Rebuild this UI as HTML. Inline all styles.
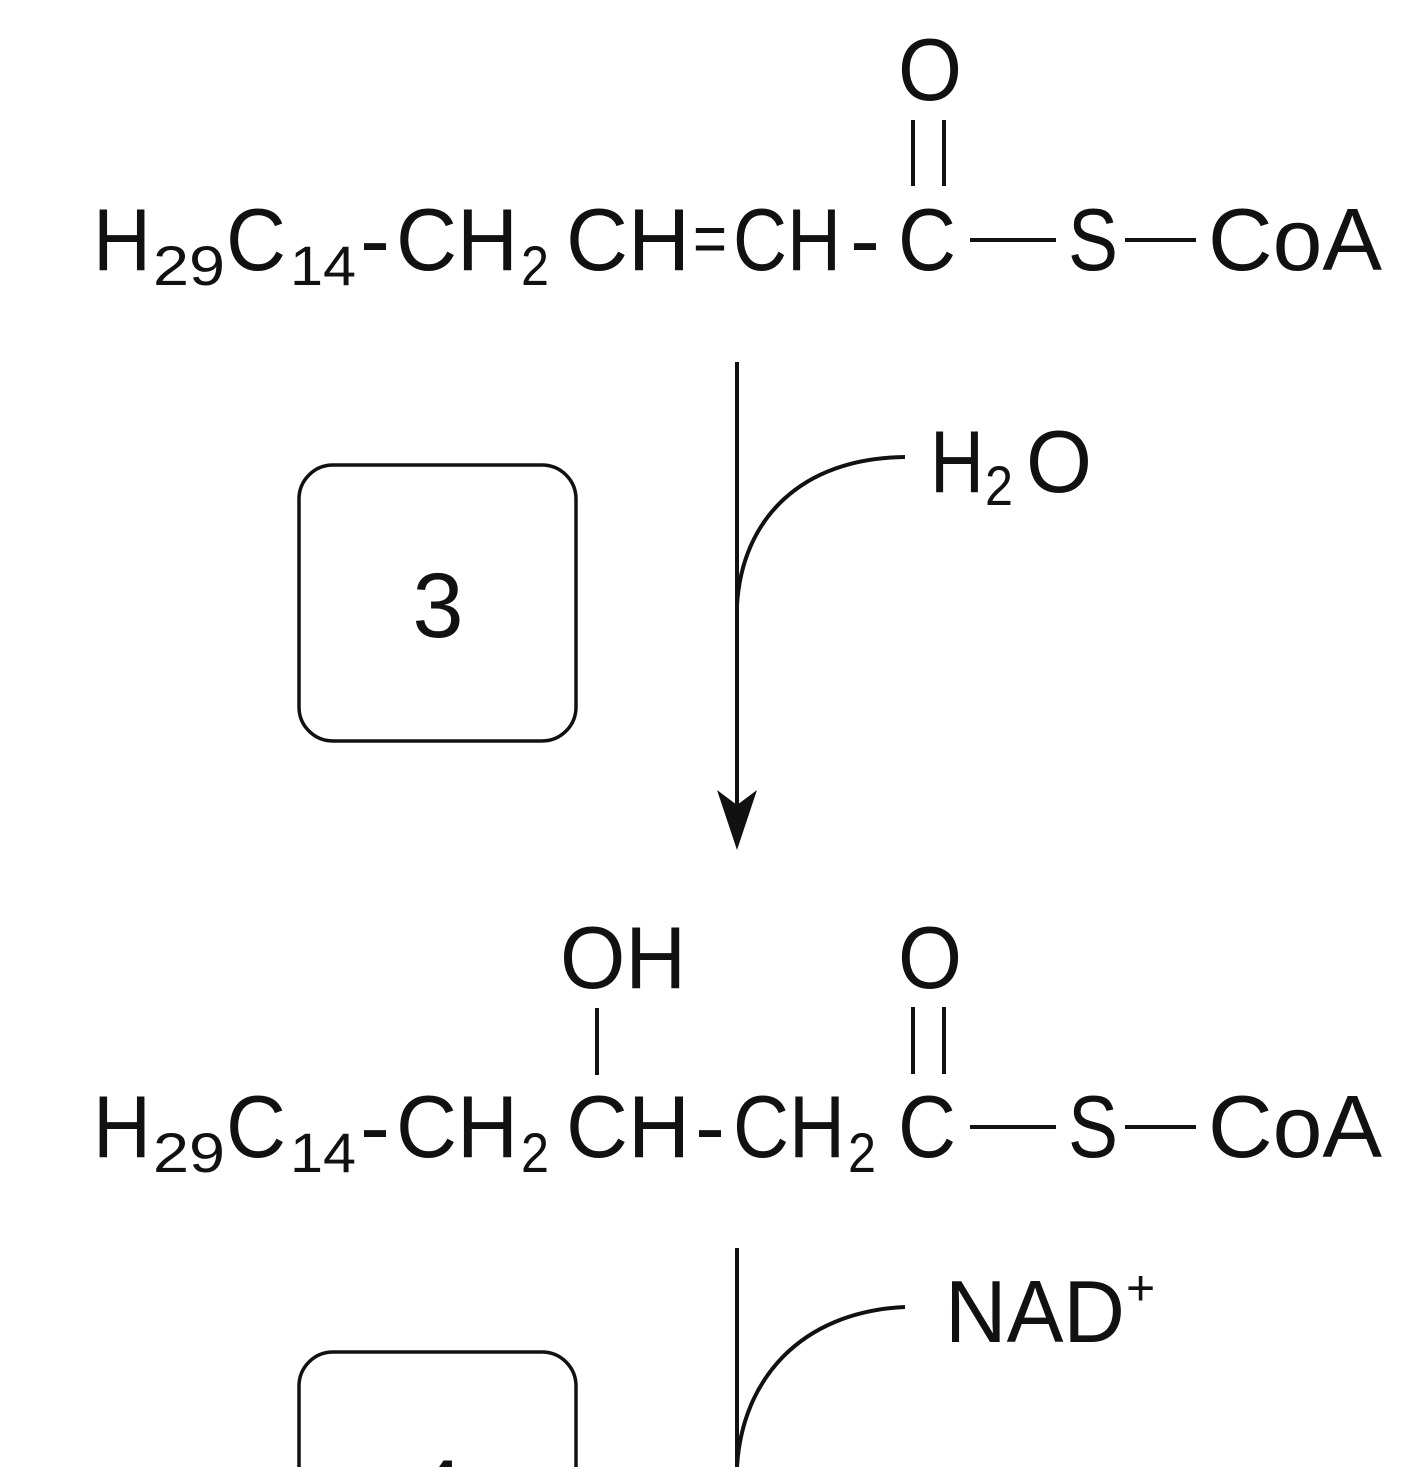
<!DOCTYPE html>
<html><head><style>
html,body{margin:0;padding:0;background:#fff;width:1421px;height:1467px;overflow:hidden;}
svg{display:block;}
text{font-family:"Liberation Sans",sans-serif;fill:#111;}
</style></head><body>
<svg width="1421" height="1467" viewBox="0 0 1421 1467" xmlns="http://www.w3.org/2000/svg">
<g stroke="#111" stroke-width="4" fill="none">
  <line x1="913" y1="120" x2="913" y2="186"/>
  <line x1="944" y1="120" x2="944" y2="186"/>
  <line x1="970" y1="240" x2="1056" y2="240"/>
  <line x1="1125" y1="240" x2="1196" y2="240"/>
  <line x1="737" y1="362" x2="737" y2="810"/>
  <path d="M737,605 C742,520 800,458 905,457"/>
  <rect x="299" y="465" width="277" height="276" rx="34" stroke-width="3.5"/>
  <line x1="597" y1="1008" x2="597" y2="1075"/>
  <line x1="913" y1="1007" x2="913" y2="1074"/>
  <line x1="944" y1="1007" x2="944" y2="1074"/>
  <line x1="970" y1="1127" x2="1056" y2="1127"/>
  <line x1="1125" y1="1127" x2="1196" y2="1127"/>
  <line x1="737" y1="1248" x2="737" y2="1467"/>
  <path d="M737,1467 C742,1380 800,1312 905,1307"/>
  <rect x="299" y="1352" width="277" height="276" rx="34" stroke-width="3.5"/>
</g>
<path d="M717,790 L737,850 L757,790 L737,805 Z" fill="#111"/>

<text x="898" y="100" font-size="88" textLength="64" lengthAdjust="spacingAndGlyphs">O</text>
<g font-size="88">
  <text x="93" y="270" textLength="58" lengthAdjust="spacingAndGlyphs">H</text>
  <text x="153" y="285" font-size="56" textLength="72" lengthAdjust="spacingAndGlyphs">29</text>
  <text x="226" y="270" textLength="60" lengthAdjust="spacingAndGlyphs">C</text>
  <text x="290" y="285" font-size="56" textLength="66" lengthAdjust="spacingAndGlyphs">14</text>
  <text x="360" y="270" textLength="30" lengthAdjust="spacingAndGlyphs">-</text>
  <text x="396" y="270" textLength="122" lengthAdjust="spacingAndGlyphs">CH</text>
  <text x="521" y="285" font-size="56" textLength="28" lengthAdjust="spacingAndGlyphs">2</text>
  <text x="566" y="270" textLength="124" lengthAdjust="spacingAndGlyphs">CH</text>
  <text x="693" y="262" font-size="70" textLength="34" lengthAdjust="spacingAndGlyphs">=</text>
  <text x="733" y="270" textLength="108" lengthAdjust="spacingAndGlyphs">CH</text>
  <text x="850" y="270" textLength="30" lengthAdjust="spacingAndGlyphs">-</text>
  <text x="898" y="270" textLength="58" lengthAdjust="spacingAndGlyphs">C</text>
  <text x="1068" y="270" textLength="50" lengthAdjust="spacingAndGlyphs">S</text>
  <text x="1208" y="270" textLength="174" lengthAdjust="spacingAndGlyphs">CoA</text>
</g>

<text x="930" y="492" font-size="88" textLength="54" lengthAdjust="spacingAndGlyphs">H</text>
<text x="985" y="505" font-size="56" textLength="28" lengthAdjust="spacingAndGlyphs">2</text>
<text x="1026" y="492" font-size="88" textLength="66" lengthAdjust="spacingAndGlyphs">O</text>
<text x="438" y="637" font-size="92" text-anchor="middle">3</text>

<text x="560" y="988" font-size="88" textLength="126" lengthAdjust="spacingAndGlyphs">OH</text>
<text x="898" y="988" font-size="88" textLength="64" lengthAdjust="spacingAndGlyphs">O</text>
<g font-size="88">
  <text x="93" y="1157" textLength="58" lengthAdjust="spacingAndGlyphs">H</text>
  <text x="153" y="1172" font-size="56" textLength="72" lengthAdjust="spacingAndGlyphs">29</text>
  <text x="226" y="1157" textLength="60" lengthAdjust="spacingAndGlyphs">C</text>
  <text x="290" y="1172" font-size="56" textLength="66" lengthAdjust="spacingAndGlyphs">14</text>
  <text x="360" y="1157" textLength="30" lengthAdjust="spacingAndGlyphs">-</text>
  <text x="396" y="1157" textLength="122" lengthAdjust="spacingAndGlyphs">CH</text>
  <text x="521" y="1172" font-size="56" textLength="28" lengthAdjust="spacingAndGlyphs">2</text>
  <text x="566" y="1157" textLength="124" lengthAdjust="spacingAndGlyphs">CH</text>
  <text x="695" y="1157" textLength="30" lengthAdjust="spacingAndGlyphs">-</text>
  <text x="733" y="1157" textLength="112" lengthAdjust="spacingAndGlyphs">CH</text>
  <text x="848" y="1172" font-size="56" textLength="28" lengthAdjust="spacingAndGlyphs">2</text>
  <text x="898" y="1157" textLength="58" lengthAdjust="spacingAndGlyphs">C</text>
  <text x="1068" y="1157" textLength="50" lengthAdjust="spacingAndGlyphs">S</text>
  <text x="1208" y="1157" textLength="174" lengthAdjust="spacingAndGlyphs">CoA</text>
</g>

<text x="945" y="1342" font-size="88" textLength="180" lengthAdjust="spacingAndGlyphs">NAD</text>
<text x="1126" y="1305" font-size="50">+</text>
<text x="438" y="1524" font-size="92" text-anchor="middle">4</text>
</svg>
</body></html>
